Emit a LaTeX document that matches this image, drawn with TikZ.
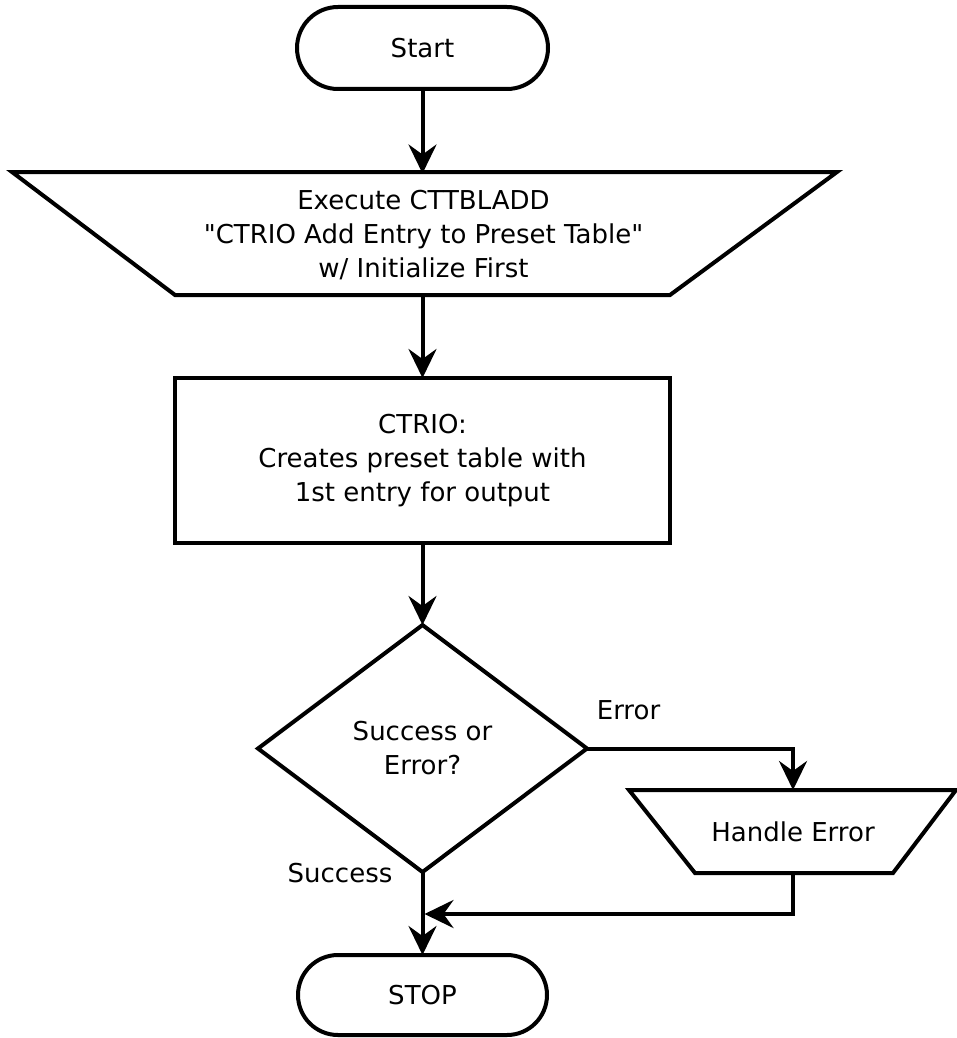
\documentclass[tikz,border=0pt]{standalone}
\usepackage{fontspec}
\setmainfont{DejaVu Sans}[Ligatures=TeXOff]
\usetikzlibrary{arrows.meta,shapes.misc,calc}
\begin{document}
\begin{tikzpicture}[x=1pt,y=1pt,
  line width=4pt,
  font=\fontsize{26}{34}\selectfont,
  every node/.style={inner sep=0pt,outer sep=0pt,align=center},
  terminal/.style={draw,rounded rectangle,minimum width=251pt,minimum height=82pt},
  box/.style={draw,rectangle,minimum width=495pt,minimum height=165pt},
  conn/.style={-{Stealth[length=29pt,width=28pt,inset=10pt]}},
  shapeline/.style={line join=miter}]
\useasboundingbox (0,0) rectangle (957,-1038);
% Start
\node[terminal] (start) at (422.5,-48) {Start};
% Execute trapezoid
\draw[shapeline] (12,-172) -- (837,-172) -- (670,-295) -- (175,-295) -- cycle;
\node[minimum height=123pt,minimum width=10pt] (exec) at (423.5,-235)
  {Execute CTTBLADD\\"CTRIO Add Entry to Preset Table"\\w/ Initialize First};
% Process
\node[box] (proc) at (422.5,-460.5) {CTRIO:\\Creates preset table with\\1st entry for output};
% Decision
\node[minimum width=329pt,minimum height=247pt] (dec) at (422.5,-748.5) {Success or\\Error?};
\draw[shapeline] (dec.north) -- (dec.east) -- (dec.south) -- (dec.west) -- cycle;
% Handle Error trapezoid
\draw[shapeline] (629,-790) -- (956,-790) -- (893,-873) -- (695,-873) -- cycle;
\node[minimum height=83pt,minimum width=10pt] (herr) at (793,-831.5) {Handle Error};
% Stop
\node[terminal,minimum width=249pt,minimum height=80pt] (stop) at (422.5,-995) {STOP};
% Labels
\node (lerr) at (628.5,-710) {Error};
\node (lsucc) at (340,-873) {Success};
% Connectors
\coordinate (join) at (424.5,-914);
\draw[conn] (start.south) -- (start.south |- exec.north);
\draw[conn] (exec.south -| proc.north) -- (proc.north);
\draw[conn] (proc.south) -- (dec.north);
\draw[conn] (dec.east) -| (herr.north);
\draw[conn] (herr.south) |- (join);
\draw[conn] (dec.south) -- (stop.north);
\end{tikzpicture}
\end{document}
